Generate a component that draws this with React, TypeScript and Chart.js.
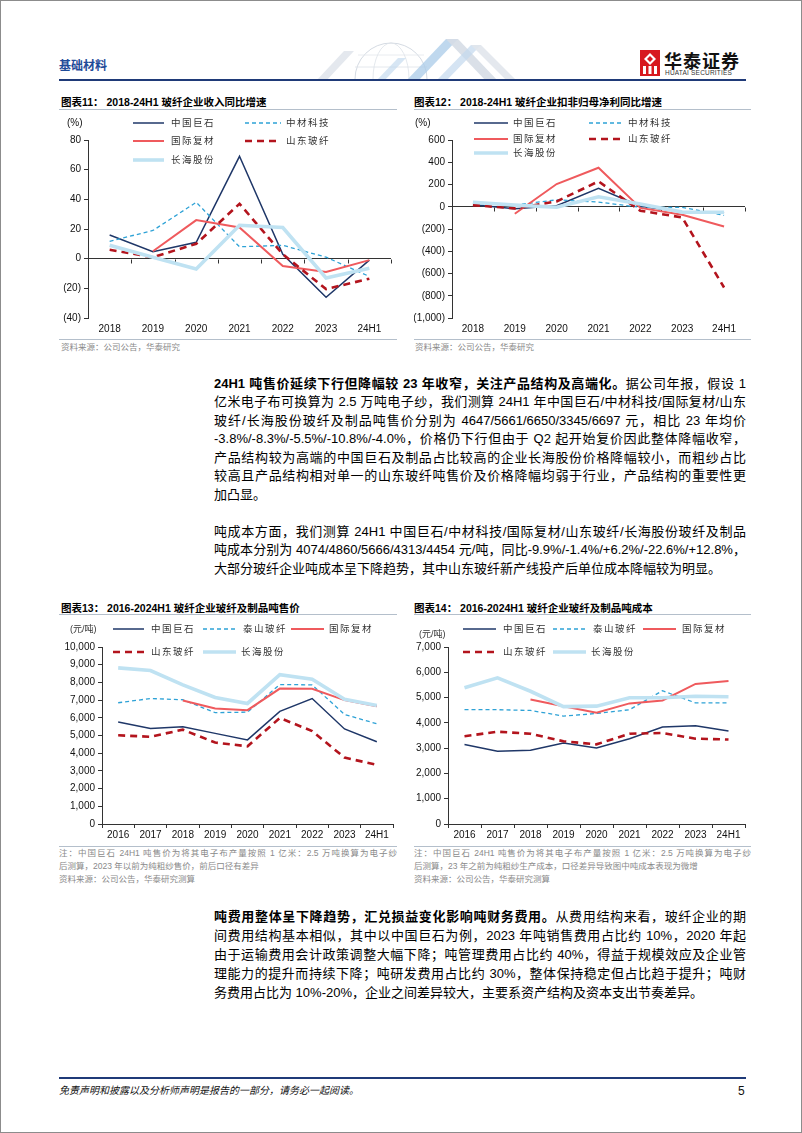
import React, { useEffect, useRef } from "react";
import { Chart, registerables } from "chart.js";

Chart.register(...registerables);
Chart.defaults.font.family = '"Liberation Sans", Arial, "Noto Sans CJK SC", sans-serif';

// ---------- DATA ----------
const yearsA = ["2018", "2019", "2020", "2021", "2022", "2023", "24H1"];
const jushiRev = [16, 4.7, 11, 69, 3, -26, -1];
const zhongcaiRev = [11.7, 19, 38, 8, 9, 1, -12];
const guojiRev = [null, 5, 26, 21, -5, -9, -1];
const shandongRev = [6, 1, 10, 37, 3, -20.5, -13.5];
const changhaiRev = [9, 1, -7, 22.5, 21, -13, -6.5];

const jushiProfit = [18, -18, 10, 165, 5, -45, -55];
const zhongcaiProfit = [30, 15, 62, 42, -5, -5, -78];
const guojiProfit = [null, -63, 204, 351, -10, -72, -177];
const shandongProfit = [15, -15, 48, 228, -36, -96, -726];
const changhaiProfit = [40, 15, -5, 90, 25, -48, -50];

const yearsB = ["2016", "2017", "2018", "2019", "2020", "2021", "2022", "2023", "24H1"];
const jushiPrice = [5760, 5400, 5500, 5120, 4750, 6360, 7090, 5370, 4647];
const taishanPrice = [6850, 7090, 7020, 6290, 6320, 7880, 7860, 6190, 5661];
const guojiPrice = [null, null, 6980, 6530, 6430, 7650, 7640, 7000, 6650];
const shandongPrice = [5010, 4930, 5330, 4600, 4390, 5990, 5250, 3750, 3345];
const changhaiPrice = [8820, 8670, 7860, 7150, 6810, 8440, 8180, 7050, 6697];

const jushiCost = [3140, 2880, 2915, 3200, 3010, 3375, 3835, 3890, 3680];
const taishanCost = [4520, 4520, 4490, 4270, 4370, 4520, 5270, 4790, 4790];
const guojiCost = [null, null, 4920, 4660, 4400, 4770, 4885, 5540, 5660];
const shandongCost = [3470, 3650, 3570, 3270, 3150, 3570, 3600, 3375, 3340];
const changhaiCost = [5385, 5780, 5250, 4640, 4660, 4990, 4990, 5055, 5030];

const namesA = ["中国巨石", "中材科技", "国际复材", "山东玻纤", "长海股份"];
const namesB = ["中国巨石", "泰山玻纤", "国际复材", "山东玻纤", "长海股份"];

// ---------- STYLES ----------
type Sty = { color: string; width: number; dash?: number[] };
const STY: Sty[] = [
  { color: "#1f3768", width: 1.5 },
  { color: "#2ea2d6", width: 1.3, dash: [4, 3] },
  { color: "#ef5a5d", width: 2 },
  { color: "#b3141d", width: 2.6, dash: [7, 5] },
  { color: "#bfe2f2", width: 3.6 },
];

const CJK = '"Liberation Sans", Arial, "Noto Sans CJK SC", sans-serif';

const fmt = (v: number) => {
  const s = Math.abs(v).toLocaleString("en-US");
  return v < 0 ? `(${s})` : s;
};

const zeroTicks = {
  id: "zeroTicks",
  beforeDatasetsDraw(chart: any, _a: any, opts: any) {
    if (!opts || !opts.enabled) return;
    const xs = chart.scales.x;
    const ys = chart.scales.y;
    const y0 = Math.round(ys.getPixelForValue(0)) + 0.5;
    const n = chart.data.labels.length;
    const step = (xs.right - xs.left) / n;
    const ctx = chart.ctx;
    ctx.save();
    ctx.strokeStyle = "#333";
    ctx.lineWidth = 1;
    ctx.beginPath();
    for (let i = 1; i <= n; i++) {
      const px = Math.round(xs.left + step * i) + 0.5;
      ctx.moveTo(px, y0);
      ctx.lineTo(px, y0 + 4);
    }
    ctx.stroke();
    ctx.restore();
  },
};

type CProps = {
  labels: string[];
  series: (number | null)[][];
  names: string[];
  min: number;
  max: number;
  step: number;
  left: number;
  top: number;
  width: number;
  height: number;
  yw: number;
  padTop: number;
  padRight: number;
  xh: number;
  zeroAxis: boolean;
};

function LineChart(p: CProps) {
  const ref = useRef<HTMLCanvasElement | null>(null);
  useEffect(() => {
    if (!ref.current) return;
    const n = p.series.length;
    const chart = new Chart(ref.current, {
      type: "line",
      data: {
        labels: p.labels,
        datasets: p.series.map((d, i) => ({
          label: p.names[i],
          data: d,
          borderColor: STY[i].color,
          backgroundColor: STY[i].color,
          borderWidth: STY[i].width,
          borderDash: STY[i].dash || [],
          pointRadius: 0,
          tension: 0,
          fill: false,
          order: n - i,
          borderCapStyle: "butt" as const,
          borderJoinStyle: "miter" as const,
        })),
      },
      plugins: [zeroTicks],
      options: {
        animation: false,
        responsive: false,
        devicePixelRatio: 1,
        layout: { padding: { top: p.padTop, right: p.padRight, left: 0, bottom: 0 } },
        plugins: {
          legend: { display: false },
          tooltip: { enabled: false },
          zeroTicks: { enabled: p.zeroAxis },
        } as any,
        scales: {
          x: {
            type: "category",
            offset: true,
            afterFit: (s: any) => {
              s.height = p.xh;
            },
            border: { display: !p.zeroAxis, color: "#333", width: 1 },
            grid: p.zeroAxis
              ? { display: false, drawTicks: false }
              : {
                  display: true,
                  drawOnChartArea: false,
                  drawTicks: true,
                  tickLength: 4,
                  color: "#333",
                  offset: true,
                },
            ticks: {
              color: "#111",
              font: { size: 10 },
              padding: p.zeroAxis ? 5 : 1,
              maxRotation: 0,
              autoSkip: false,
            },
          },
          y: {
            min: p.min,
            max: p.max,
            afterFit: (s: any) => {
              s.width = p.yw;
            },
            border: { display: true, color: "#333", width: 1 },
            grid: {
              drawOnChartArea: p.zeroAxis,
              color: (c: any) => (c.tick && c.tick.value === 0 ? "#333" : "rgba(0,0,0,0)"),
              tickColor: "#333",
              tickLength: 4,
              drawTicks: true,
            },
            ticks: {
              stepSize: p.step,
              color: "#111",
              font: { size: 10 },
              padding: 3,
              callback: (v: any) => fmt(Number(v)),
            },
          },
        },
      },
    });
    return () => chart.destroy();
  }, []);
  return (
    <canvas
      ref={ref}
      width={p.width}
      height={p.height}
      style={{ position: "absolute", left: p.left, top: p.top, width: p.width, height: p.height }}
    />
  );
}

function LegendItem(props: { sty: Sty; y: number; x1: number; x2: number; lx: number; text: string }) {
  const { sty, y, x1, x2, lx, text } = props;
  const w = x2 - x1;
  return (
    <>
      <svg
        width={w}
        height={8}
        style={{ position: "absolute", left: x1, top: y - 4, overflow: "visible" }}
      >
        <line
          x1={0}
          y1={4}
          x2={w}
          y2={4}
          stroke={sty.color}
          strokeWidth={sty.width}
          strokeDasharray={sty.dash ? sty.dash.join(" ") : undefined}
        />
      </svg>
      <div
        style={{
          position: "absolute",
          left: lx,
          top: y - 7,
          height: 14,
          lineHeight: "14px",
          fontSize: 9.5,
          color: "#333",
          fontFamily: CJK,
          whiteSpace: "nowrap",
          letterSpacing: 1.5,
        }}
      >
        {text}
      </div>
    </>
  );
}

function Txt(props: {
  x: number;
  y: number;
  size: number;
  children: React.ReactNode;
  color?: string;
  bold?: boolean;
  italic?: boolean;
  w?: number;
  justify?: boolean;
  ls?: number;
}) {
  const { x, y, size, color, bold, italic, w, justify, ls } = props;
  return (
    <div
      style={{
        position: "absolute",
        left: x,
        top: y - size * 0.7,
        width: w,
        height: size * 1.4,
        lineHeight: `${size * 1.4}px`,
        fontSize: size,
        color: color || "#000",
        fontWeight: bold ? 700 : 400,
        fontStyle: italic ? "italic" : "normal",
        fontFamily: CJK,
        whiteSpace: "nowrap",
        textAlign: justify ? "justify" : "left",
        textAlignLast: justify ? "justify" : "auto",
        letterSpacing: ls,
      }}
    >
      {props.children}
    </div>
  );
}

function Para(props: { x: number; y: number; w: number; lines: React.ReactNode[]; lh: number; lastJustify?: boolean }) {
  return (
    <>
      {props.lines.map((l, i) => (
        <Txt
          key={i}
          x={props.x}
          y={props.y + i * props.lh}
          size={13}
          w={props.w}
          justify={i < props.lines.length - 1 || !!props.lastJustify}
        >
          {l}
        </Txt>
      ))}
    </>
  );
}

function Rule(props: { x: number; y: number; w: number; color: string; h?: number }) {
  return (
    <div
      style={{
        position: "absolute",
        left: props.x,
        top: props.y,
        width: props.w,
        height: props.h || 1,
        background: props.color,
      }}
    />
  );
}

function Header() {
  return (
    <>
      <svg width={240} height={50} style={{ position: "absolute", left: 295, top: 30 }}>
        <circle cx={95} cy={48} r={36} fill="none" stroke="#d5dbe3" strokeWidth={1} />
        <ellipse cx={95} cy={48} rx={18} ry={36} fill="none" stroke="#dde2e8" strokeWidth={0.8} />
        <line x1={59} y1={36} x2={131} y2={36} stroke="#dde2e8" strokeWidth={0.8} />
        <line x1={62} y1={24} x2={128} y2={24} stroke="#e3e7ec" strokeWidth={0.8} />
        <polygon points="20,50 48,20 58,20 30,50" fill="#e4e8ee" />
        <polygon points="110,50 150,8 162,8 122,50" fill="#a9cbe8" opacity={0.75} />
        <polygon points="150,8 162,8 202,50 190,50" fill="#d6dde5" opacity={0.9} />
        <polygon points="140,50 175,14 185,14 150,50" fill="#c3d9ee" opacity={0.7} />
        <polygon points="175,14 185,14 221,50 211,50" fill="#e1e6ec" opacity={0.9} />
        <polygon points="80,50 102,27 110,27 88,50" fill="#bcd5ec" opacity={0.6} />
      </svg>
      <Txt x={58} y={65} size={12} bold color="#1f4b99">
        基础材料
      </Txt>
      <svg width={20} height={26} style={{ position: "absolute", left: 639, top: 49 }}>
        <rect x={0} y={0} width={20} height={26} fill="#d7191f" />
        <polygon points="10,3 16,9 10,15 4,9" fill="#fff" />
        <polygon points="10,6 13,9 10,12 7,9" fill="#d7191f" />
        <rect x={3} y={16} width={3} height={8} fill="#fff" />
        <rect x={8.5} y={16} width={3} height={8} fill="#fff" />
        <rect x={14} y={16} width={3} height={8} fill="#fff" />
      </svg>
      <Txt x={663} y={62} size={18} bold color="#111" ls={1}>
        华泰证券
      </Txt>
      <Txt x={664} y={72} size={6.5} color="#333" ls={0.2}>
        HUATAI SECURITIES
      </Txt>
      <Rule x={58} y={78} w={687} h={2} color="#1f3a78" />
    </>
  );
}

function ChartTitle(props: { x: number; y: number; num: string; text: string }) {
  return (
    <Txt x={props.x} y={props.y} size={10.5} bold color="#000">
      {`图表${props.num}：  ${props.text}`}
    </Txt>
  );
}

export default function App() {
  const gray = "#8a8a8a";
  const lineC = "#b4bfcb";
  return (
    <div
      style={{
        position: "absolute",
        left: 0,
        top: 0,
        width: 802,
        height: 1133,
        background: "#fff",
        boxSizing: "border-box",
        border: "1px solid #8c8c8c",
        overflow: "hidden",
        fontFamily: CJK,
      }}
    >
      <Header />

      {/* ---------- Chart 11 ---------- */}
      <ChartTitle x={60} y={101} num="11" text="2018-24H1 玻纤企业收入同比增速" />
      <Rule x={58} y={108} w={338} color={lineC} />
      <LineChart
        labels={yearsA}
        series={[jushiRev, zhongcaiRev, guojiRev, shandongRev, changhaiRev]}
        names={namesA}
        min={-40}
        max={80}
        step={20}
        left={58}
        top={112}
        width={338}
        height={223}
        yw={29}
        padTop={27}
        padRight={6}
        xh={18}
        zeroAxis
      />
      <Txt x={66} y={122} size={10} color="#111">(%)</Txt>
      <LegendItem sty={STY[0]} y={122} x1={132} x2={163} lx={170} text={namesA[0]} />
      <LegendItem sty={STY[1]} y={122} x1={244} x2={280} lx={285} text={namesA[1]} />
      <LegendItem sty={STY[2]} y={140} x1={132} x2={163} lx={170} text={namesA[2]} />
      <LegendItem sty={STY[3]} y={140} x1={244} x2={280} lx={285} text={namesA[3]} />
      <LegendItem sty={STY[4]} y={159} x1={132} x2={163} lx={170} text={namesA[4]} />
      <Rule x={58} y={338} w={338} color={lineC} />
      <Txt x={60} y={347} size={8.5} color={gray}>资料来源：公司公告，华泰研究</Txt>

      {/* ---------- Chart 12 ---------- */}
      <ChartTitle x={413} y={101} num="12" text="2018-24H1 玻纤企业扣非归母净利同比增速" />
      <Rule x={413} y={108} w={337} color={lineC} />
      <LineChart
        labels={yearsA}
        series={[jushiProfit, zhongcaiProfit, guojiProfit, shandongProfit, changhaiProfit]}
        names={namesA}
        min={-1000}
        max={600}
        step={200}
        left={413}
        top={112}
        width={337}
        height={223}
        yw={38}
        padTop={27}
        padRight={6}
        xh={18}
        zeroAxis
      />
      <Txt x={414} y={122} size={10} color="#111">(%)</Txt>
      <LegendItem sty={STY[0]} y={122} x1={473} x2={507} lx={512} text={namesA[0]} />
      <LegendItem sty={STY[1]} y={122} x1={588} x2={622} lx={627} text={namesA[1]} />
      <LegendItem sty={STY[2]} y={138} x1={473} x2={507} lx={512} text={namesA[2]} />
      <LegendItem sty={STY[3]} y={138} x1={588} x2={622} lx={627} text={namesA[3]} />
      <LegendItem sty={STY[4]} y={152} x1={473} x2={507} lx={512} text={namesA[4]} />
      <Rule x={413} y={338} w={337} color={lineC} />
      <Txt x={414} y={347} size={8.5} color={gray}>资料来源：公司公告，华泰研究</Txt>

      {/* ---------- Paragraph 1 & 2 ---------- */}
      <Para
        x={213}
        y={383}
        w={532}
        lh={18.5}
        lines={[
          <>
            <b>24H1 吨售价延续下行但降幅较 23 年收窄，关注产品结构及高端化。</b>据公司年报，假设 1
          </>,
          "亿米电子布可换算为 2.5 万吨电子纱，我们测算 24H1 年中国巨石/中材科技/国际复材/山东",
          "玻纤/长海股份玻纤及制品吨售价分别为 4647/5661/6650/3345/6697 元，相比 23 年均价",
          "-3.8%/-8.3%/-5.5%/-10.8%/-4.0%，价格仍下行但由于 Q2 起开始复价因此整体降幅收窄，",
          "产品结构较为高端的中国巨石及制品占比较高的企业长海股份价格降幅较小，而粗纱占比",
          "较高且产品结构相对单一的山东玻纤吨售价及价格降幅均弱于行业，产品结构的重要性更",
          "加凸显。",
        ]}
      />
      <Para
        x={213}
        y={531}
        w={532}
        lh={18.5}
        lines={[
          "吨成本方面，我们测算 24H1 中国巨石/中材科技/国际复材/山东玻纤/长海股份玻纤及制品",
          "吨成本分别为 4074/4860/5666/4313/4454 元/吨，同比-9.9%/-1.4%/+6.2%/-22.6%/+12.8%，",
          "大部分玻纤企业吨成本呈下降趋势，其中山东玻纤新产线投产后单位成本降幅较为明显。",
        ]}
      />

      {/* ---------- Chart 13 ---------- */}
      <ChartTitle x={60} y={607} num="13" text="2016-2024H1 玻纤企业玻纤及制品吨售价" />
      <Rule x={58} y={613} w={338} color={lineC} />
      <LineChart
        labels={yearsB}
        series={[jushiPrice, taishanPrice, guojiPrice, shandongPrice, changhaiPrice]}
        names={namesB}
        min={0}
        max={10000}
        step={1000}
        left={58}
        top={618}
        width={338}
        height={222}
        yw={43}
        padTop={28}
        padRight={4}
        xh={17}
        zeroAxis={false}
      />
      <Txt x={69} y={628} size={9} color="#333">(元/吨)</Txt>
      <LegendItem sty={STY[0]} y={628} x1={112} x2={143} lx={150} text={namesB[0]} />
      <LegendItem sty={STY[1]} y={628} x1={202} x2={235} lx={242} text={namesB[1]} />
      <LegendItem sty={STY[2]} y={628} x1={290} x2={323} lx={328} text={namesB[2]} />
      <LegendItem sty={STY[3]} y={651} x1={112} x2={143} lx={150} text={namesB[3]} />
      <LegendItem sty={STY[4]} y={651} x1={202} x2={235} lx={240} text={namesB[4]} />
      <Rule x={58} y={845} w={338} color={lineC} />
      <Txt x={58} y={853} size={8.5} color={gray} w={338} justify>
        注：中国巨石 24H1 吨售价为将其电子布产量按照 1 亿米：2.5 万吨换算为电子纱
      </Txt>
      <Txt x={58} y={866} size={8.5} color={gray}>后测算，2023 年以前为纯粗纱售价，前后口径有差异</Txt>
      <Txt x={58} y={879} size={8.5} color={gray}>资料来源：公司公告，华泰研究测算</Txt>

      {/* ---------- Chart 14 ---------- */}
      <ChartTitle x={413} y={607} num="14" text="2016-2024H1 玻纤企业玻纤及制品吨成本" />
      <Rule x={413} y={613} w={337} color={lineC} />
      <LineChart
        labels={yearsB}
        series={[jushiCost, taishanCost, guojiCost, shandongCost, changhaiCost]}
        names={namesB}
        min={0}
        max={7000}
        step={1000}
        left={413}
        top={618}
        width={337}
        height={222}
        yw={34}
        padTop={28}
        padRight={6}
        xh={17}
        zeroAxis={false}
      />
      <Txt x={418} y={633} size={9} color="#333">(元/吨)</Txt>
      <LegendItem sty={STY[0]} y={628} x1={462} x2={495} lx={502} text={namesB[0]} />
      <LegendItem sty={STY[1]} y={628} x1={552} x2={585} lx={592} text={namesB[1]} />
      <LegendItem sty={STY[2]} y={628} x1={642} x2={675} lx={681} text={namesB[2]} />
      <LegendItem sty={STY[3]} y={651} x1={462} x2={495} lx={502} text={namesB[3]} />
      <LegendItem sty={STY[4]} y={651} x1={552} x2={585} lx={590} text={namesB[4]} />
      <Rule x={413} y={845} w={337} color={lineC} />
      <Txt x={413} y={853} size={8.5} color={gray} w={337} justify>
        注：中国巨石 24H1 吨售价为将其电子布产量按照 1 亿米：2.5 万吨换算为电子纱
      </Txt>
      <Txt x={413} y={866} size={8.5} color={gray}>后测算，23 年之前为纯粗纱生产成本，口径差异导致图中吨成本表现为微增</Txt>
      <Txt x={413} y={879} size={8.5} color={gray}>资料来源：公司公告，华泰研究测算</Txt>

      {/* ---------- Paragraph 3 ---------- */}
      <Para
        x={213}
        y={916}
        w={532}
        lh={19}
        lines={[
          <>
            <b>吨费用整体呈下降趋势，汇兑损益变化影响吨财务费用。</b>从费用结构来看，玻纤企业的期
          </>,
          "间费用结构基本相似，其中以中国巨石为例，2023 年吨销售费用占比约 10%，2020 年起",
          "由于运输费用会计政策调整大幅下降；吨管理费用占比约 40%，得益于规模效应及企业管",
          "理能力的提升而持续下降；吨研发费用占比约 30%，整体保持稳定但占比趋于提升；吨财",
          "务费用占比为 10%-20%，企业之间差异较大，主要系资产结构及资本支出节奏差异。",
        ]}
      />

      {/* ---------- Footer ---------- */}
      <Rule x={58} y={1076} w={687} h={2} color="#1f3a78" />
      <Txt x={58} y={1090} size={10} italic color="#111">
        免责声明和披露以及分析师声明是报告的一部分，请务必一起阅读。
      </Txt>
      <Txt x={737} y={1090} size={12} color="#111">5</Txt>
    </div>
  );
}
